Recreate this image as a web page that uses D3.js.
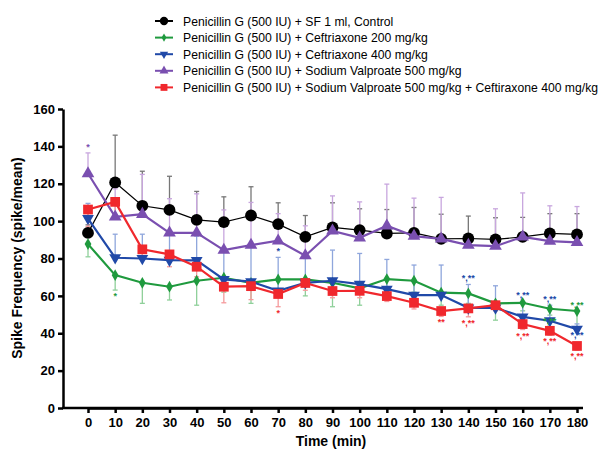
<!doctype html>
<html lang="en">
<head>
<meta charset="UTF-8">
<script src="https://cdn.jsdelivr.net/npm/d3@7"></script>
<style>
  body { margin: 0; background: #fff; }
  svg text { font-family: "Liberation Sans", Arial, sans-serif; }
  .axis path, .axis line { stroke: #000; stroke-width: 2.5; }
  .axis text { font-size: 13px; font-weight: bold; fill: #000; }
  .title { font-size: 14px; font-weight: bold; }
  .legend text { font-size: 12.2px; fill: #000; }
  .sig { font-size: 9px; font-weight: bold; }
</style>
</head>
<body>
<svg id="chart" width="603" height="450"></svg>
<script>
// time points (min)
const times = [0, 10, 20, 30, 40, 50, 60, 70, 80, 90, 100, 110, 120, 130, 140, 150, 160, 170, 180];
const yTicks = [0, 20, 40, 60, 80, 100, 120, 140, 160];

// series means and error-bar ends
const control = [93.7, 120.7, 108.2, 106, 100.7, 99.5, 103, 98.4, 91.6, 96.6, 95.2, 93.4, 93.7, 90.5, 90.7, 90.2, 91.6, 93.4, 92.9];
const controlErr = [98, 146, 126.7, 124, 115.9, 113, 118.4, 109.8, 103, 109.8, 106.6, 106.2, 107.3, 103.7, 102.7, 101.8, 102, 104, 104];

const cef200 = [87.7, 71.1, 67, 64.9, 68.1, 69.7, 67, 68.8, 68.8, 67, 64, 69, 68.1, 61.7, 61.3, 56, 56.3, 53.1, 51.9];
const cef200Err = [80.9, 63.1, 56, 57.8, 55, 62, 56, 60, 60, 54.2, 55, 63, 62, 55, 56, 47, 52, 49.7, 42];

const cef400 = [101.4, 80.4, 80, 79.1, 79, 68.8, 67.6, 62.7, 67, 68.1, 66.3, 63.6, 60.4, 60.4, 53.6, 53.6, 48.8, 46.7, 42.2];
const cef400Err = [109.5, 93, 93, 93, 92, 84, 86, 80.6, 80, 84.5, 82.7, 79.5, 76.5, 76.5, 66.1, 65.4, 57, 55, 45];

const valp = [125.5, 102.3, 103.7, 93.7, 93.7, 84.5, 87.2, 89.5, 81.5, 94.8, 91.1, 97.5, 92, 90.5, 87.2, 86.6, 91.6, 89.3, 88.6];
const valpErr = [136.5, 117.3, 125, 112, 114.6, 106, 110, 104, 97.5, 113.5, 110.3, 119.8, 112.3, 112.7, 91, 106.6, 115.1, 108.2, 107.8];

const combo = [106.2, 110.3, 84.9, 82.2, 75.6, 64.9, 65.2, 61, 66.9, 62.6, 62.7, 59.9, 56.3, 51.9, 53.3, 55, 44.9, 41.3, 33.2];
const comboErr = [97, 103, 80, 75.6, 70.2, 56.3, 58, 54.2, 63, 59, 59, 57, 53, 49, 48.8, 52, 42, 39, 31];

const labels = [
  "Penicillin G (500 IU) + SF 1 ml, Control",
  "Penicillin G (500 IU) + Ceftriaxone 200 mg/kg",
  "Penicillin G (500 IU) + Ceftriaxone 400 mg/kg",
  "Penicillin G (500 IU) + Sodium Valproate 500 mg/kg",
  "Penicillin G (500 IU) + Sodium Valproate 500 mg/kg + Ceftiraxone 400 mg/kg"
];

// significance marks: series index, time, text, side
const marks = [
  [3, 0, "*", "above"], [1, 10, "*", "below"], [2, 70, "*", "above"], [4, 70, "*", "below"],
  [4, 130, "**", "below"], [2, 140, "*,**", "above"], [4, 140, "*,**", "below"],
  [2, 160, "*,**", "above"], [4, 160, "*,**", "below"],
  [2, 170, "*,**", "above"], [1, 170, "*,**", "below"], [4, 170, "*,**", "below"],
  [1, 180, "*,**", "above"], [2, 180, "*,**", "below"], [4, 180, "*,**", "below"]
];

const series = [
  { name: labels[0], values: control, err: controlErr, color: "#000000", errColor: "#777", width: 1.2, symbol: d3.symbolCircle, size: 110 },
  { name: labels[1], values: cef200, err: cef200Err, color: "#1f9a3e", errColor: "#8fd09a", width: 2.2, symbol: d3.symbolDiamond, size: 40 },
  { name: labels[2], values: cef400, err: cef400Err, color: "#2049a8", errColor: "#8fa6dc", width: 2.2, symbol: d3.symbolTriangle, size: 60, rot: 180 },
  { name: labels[3], values: valp, err: valpErr, color: "#7a4fb0", errColor: "#c8a6de", width: 2.2, symbol: d3.symbolTriangle, size: 70 },
  { name: labels[4], values: combo, err: comboErr, color: "#f0282d", errColor: "#f59a9c", width: 2.2, symbol: d3.symbolSquare, size: 95 }
];

const svg = d3.select("#chart");
const x = d3.scaleLinear().domain([0, 180]).range([88, 577]);
const y = d3.scaleLinear().domain([0, 160]).range([408, 109]);

// axes
svg.append("g").attr("class", "axis")
  .attr("transform", "translate(63,0)")
  .call(d3.axisLeft(y).tickValues(yTicks).tickSize(5).tickSizeOuter(0).tickPadding(3));
svg.append("g").attr("class", "axis")
  .attr("transform", "translate(0,408)")
  .call(d3.axisBottom(x).tickValues(times).tickSize(5).tickSizeOuter(0).tickPadding(5));
svg.append("line").attr("x1", 62).attr("x2", 583).attr("y1", 408).attr("y2", 408)
  .attr("stroke", "#000").attr("stroke-width", 2.5);

svg.append("text").attr("class", "title")
  .attr("transform", "translate(22,258) rotate(-90)")
  .attr("text-anchor", "middle").text("Spike Frequency (spike/mean)");
svg.append("text").attr("class", "title")
  .attr("x", 331).attr("y", 446).attr("text-anchor", "middle").text("Time (min)");

// error bars
series.forEach(function(s) {
  const g = svg.append("g");
  s.values.forEach(function(v, i) {
    const cx = x(times[i]);
    g.append("line").attr("x1", cx).attr("x2", cx).attr("y1", y(v)).attr("y2", y(s.err[i]))
      .attr("stroke", s.errColor).attr("stroke-width", 1.3);
    g.append("line").attr("x1", cx - 2.5).attr("x2", cx + 2.5).attr("y1", y(s.err[i])).attr("y2", y(s.err[i]))
      .attr("stroke", s.errColor).attr("stroke-width", 1.3);
  });
});

// lines and markers
const line = d3.line().x(function(d, i) { return x(times[i]); }).y(function(d) { return y(d); });
series.forEach(function(s) {
  svg.append("path").datum(s.values).attr("d", line)
    .attr("fill", "none").attr("stroke", s.color).attr("stroke-width", s.width);
  svg.append("g").selectAll("path").data(s.values).enter().append("path")
    .attr("d", d3.symbol().type(s.symbol).size(s.size))
    .attr("transform", function(d, i) {
      return "translate(" + x(times[i]) + "," + y(d) + ")" + (s.rot ? " rotate(" + s.rot + ")" : "");
    })
    .attr("fill", s.color);
});

// significance marks
marks.forEach(function(m) {
  const s = series[m[0]];
  const i = times.indexOf(m[1]);
  const v = s.values[i], e = s.err[i];
  let py;
  if (m[3] === "above") py = y(Math.max(v, e)) - 3;
  else py = y(Math.min(v, e)) + 9;
  svg.append("text").attr("class", "sig").attr("x", x(m[1])).attr("y", py)
    .attr("text-anchor", "middle").attr("fill", s.color).text(m[2]);
});

// legend
const legend = svg.append("g").attr("class", "legend");
series.forEach(function(s, i) {
  const ly = 21 + i * 16.6;
  legend.append("line").attr("x1", 155).attr("x2", 173).attr("y1", ly).attr("y2", ly)
    .attr("stroke", s.color).attr("stroke-width", 2);
  legend.append("path").attr("d", d3.symbol().type(s.symbol).size(s.size * 0.5))
    .attr("transform", "translate(164," + ly + ")" + (s.rot ? " rotate(" + s.rot + ")" : ""))
    .attr("fill", s.color);
  legend.append("text").attr("x", 183).attr("y", ly + 4.5).text(s.name);
});
</script>
</body>
</html>
